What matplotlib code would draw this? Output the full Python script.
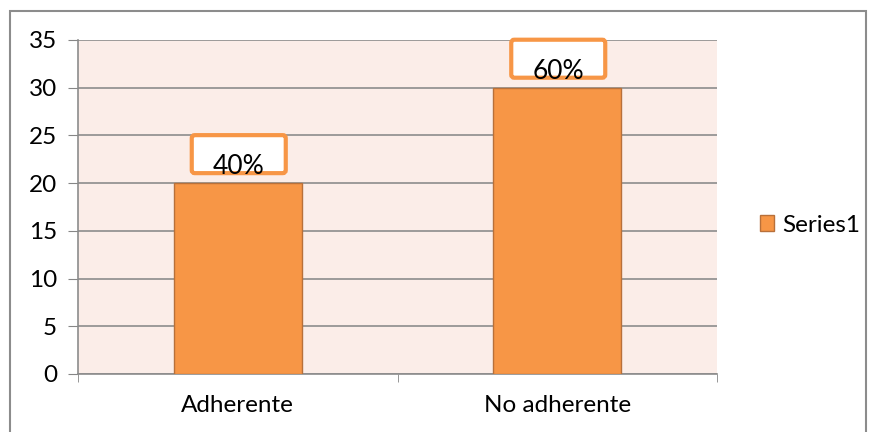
import matplotlib.pyplot as plt
import matplotlib.patches as mpatches
import matplotlib.transforms as mtransforms

# Datos
categorias = ['Adherente', 'No adherente']
valores = [20, 30]
etiquetas = ['40%', '60%']
serie = 'Series1'

plt.rcParams['font.family'] = ['Lato', 'DejaVu Sans']

fig = plt.figure(figsize=(8.74, 4.32), dpi=100)
W, H = 874, 432
ax = fig.add_axes([78 / W, (H - 374) / H, 639 / W, 334 / H])
ax.set_facecolor('#FBEDE8')

x = list(range(len(categorias)))
ax.bar(x, valores, width=0.4, color='#F79646', edgecolor='#B8703A', linewidth=1, zorder=3, label=serie)

ax.set_xlim(-0.5, len(categorias) - 0.5)
ax.set_ylim(0, 35)
ax.set_yticks(range(0, 36, 5))
ax.tick_params(axis='y', labelsize=17.5, length=7, color='#868686', pad=8)
ax.set_xticks(x)
ax.set_xticklabels(categorias)
ax.tick_params(axis='x', which='major', length=0, labelsize=17.5, pad=15)
ax.set_xticks([-0.5, 0.5, 1.5], minor=True)
ax.tick_params(axis='x', which='minor', length=6, color='#868686')
ax.grid(axis='y', color='#8C8C8C', linewidth=1.2, zorder=1)
ax.set_axisbelow(True)
for s in ['top', 'right']:
    ax.spines[s].set_visible(False)
for s in ['left', 'bottom']:
    ax.spines[s].set_color('#8C8C8C')
    ax.spines[s].set_linewidth(1.2)

# Etiquetas con recuadro
for xi, v, lab in zip(x, valores, etiquetas):
    tr = mtransforms.ScaledTranslation(xi, v, ax.transData)
    box = mpatches.FancyBboxPatch((-46, 10), 94, 38, boxstyle='round,pad=0,rounding_size=3',
                                  transform=tr, facecolor='white', edgecolor='#F79646',
                                  linewidth=3, zorder=4, clip_on=False)
    ax.add_patch(box)
    ax.annotate(lab, (xi, v), xytext=(1, 9), textcoords='offset pixels',
                ha='center', va='baseline', fontsize=19, zorder=5)

# Leyenda
fig.legend(loc='center left', bbox_to_anchor=(738 / W, 1 - 225 / H), frameon=False,
           fontsize=17.5, handlelength=0.6, handleheight=0.6, handletextpad=0.3)

# Borde de la figura
fig.patches.append(mpatches.Rectangle((10 / W, -0.1), 856 / W, 1.1 - 11 / H, transform=fig.transFigure,
                                      fill=False, edgecolor='#8C8C8C', linewidth=1.5))

plt.savefig('out.png', dpi=100)
